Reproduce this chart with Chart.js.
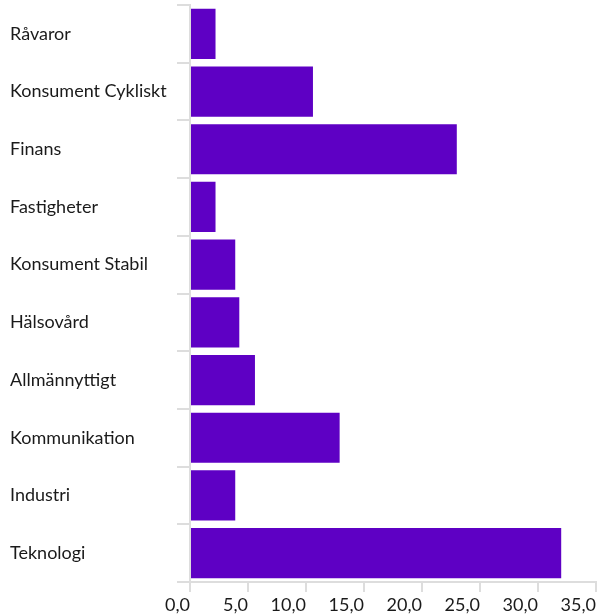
<!DOCTYPE html>
<html lang="sv">
<head>
<meta charset="UTF-8">
<title>Sektorer</title>
<script src="https://cdn.jsdelivr.net/npm/chart.js"></script>
<style>
    html, body { margin: 0; padding: 0; background: white; }
    .wrap { width: 597px; height: 616px; }
</style>
</head>
<body>
<div class="wrap"><canvas id="chart"></canvas></div>
<script>
    const sectors = ['Råvaror', 'Konsument Cykliskt', 'Finans', 'Fastigheter', 'Konsument Stabil',
        'Hälsovård', 'Allmännyttigt', 'Kommunikation', 'Industri', 'Teknologi'];
    const weights = [2.2, 10.6, 23.0, 2.2, 3.9, 4.25, 5.6, 12.9, 3.9, 32.0];

    const gridColor = '#dddddd';
    const labelFont = { family: 'Lato', size: 18 };

    new Chart(document.getElementById('chart'), {
        type: 'bar',
        data: {
            labels: sectors,
            datasets: [{
                data: weights,
                backgroundColor: '#5e00c4',
                categoryPercentage: 0.87,
                barPercentage: 1.0
            }]
        },
        options: {
            indexAxis: 'y',
            responsive: true,
            maintainAspectRatio: false,
            animation: false,
            layout: { padding: { top: 5, left: 10, right: 1, bottom: 0 } },
            plugins: { legend: { display: false }, tooltip: { enabled: false } },
            scales: {
                x: {
                    min: 0,
                    max: 35,
                    afterFit: s => { s.height = 34; s.paddingLeft = 0; s.paddingRight = 0; },
                    ticks: {
                        stepSize: 5,
                        align: 'end',
                        maxRotation: 0,
                        color: '#1a1a1a',
                        font: labelFont,
                        padding: 2,
                        callback: v => v.toFixed(1).replace('.', ',')
                    },
                    grid: { drawOnChartArea: false, color: gridColor, lineWidth: 2, tickLength: 10 },
                    border: { color: gridColor, width: 2 }
                },
                y: {
                    afterFit: s => { s.width = 180; s.paddingTop = 0; s.paddingBottom = 0; },
                    ticks: {
                        crossAlign: 'far',
                        color: '#1a1a1a',
                        font: labelFont,
                        padding: 8
                    },
                    grid: { drawOnChartArea: false, color: gridColor, lineWidth: 2, tickLength: 13, offset: true },
                    border: { color: gridColor, width: 2 }
                }
            }
        }
    });
</script>
</body>
</html>
